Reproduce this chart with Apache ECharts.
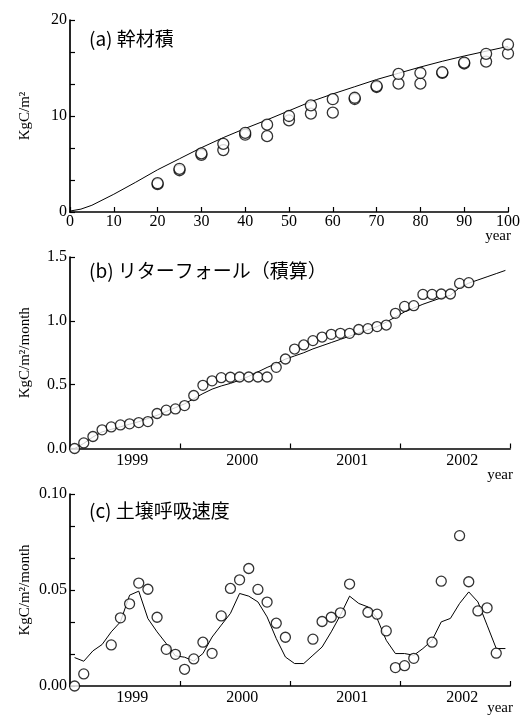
<!DOCTYPE html>
<html>
<head>
<meta charset="utf-8">
<script src="https://cdn.jsdelivr.net/npm/echarts@6/dist/echarts.min.js"></script>
<style>
html,body{margin:0;padding:0;background:#fff;}
#c{width:523px;height:717px;}
</style>
</head>
<body>
<div id="c"></div>
<script>
// ---------- Data ----------
const titleA = '(a) 幹材積';
const titleB = '(b) リターフォール（積算）';
const titleC = '(c) 土壌呼吸速度';
const yNameA = 'KgC/m²';
const yNameBC = 'KgC/m²/month';
const xName = 'year';
const yearLabels = ['1999', '2000', '2001', '2002'];

// (a) stem volume: observations (two plots) and model curve
const aYears = [20, 25, 30, 35, 40, 45, 50, 55, 60, 65, 70, 75, 80, 85, 90, 95, 100];
const aObs1 = [3.0, 4.5, 6.1, 7.1, 8.25, 9.1, 10.0, 11.1, 11.75, 11.9, 13.12, 14.38, 14.48, 14.56, 15.57, 16.48, 17.45];
const aObs2 = [2.9, 4.35, 5.96, 6.45, 8.05, 7.9, 9.55, 10.25, 10.35, 11.77, 13.02, 13.37, 13.37, 14.49, 15.47, 15.67, 16.51];
const aModelYears = [0, 2.5, 5, 10, 15, 20, 25, 30, 35, 40, 45, 50, 55, 60, 65, 70, 75, 80, 85, 90, 95, 100];
const aModel = [0.1, 0.3, 0.7, 1.85, 3.1, 4.4, 5.55, 6.7, 7.75, 8.7, 9.6, 10.55, 11.5, 12.3, 13.05, 13.8, 14.45, 15.1, 15.7, 16.25, 16.75, 17.25];

// (b) cumulative litterfall, monthly (month index from start)
const bObs = [0.000, 0.044, 0.094, 0.146, 0.169, 0.185, 0.193, 0.203, 0.211, 0.274,
  0.300, 0.310, 0.336, 0.415, 0.495, 0.530, 0.555, 0.558, 0.560, 0.560,
  0.560, 0.560, 0.636, 0.701, 0.779, 0.811, 0.845, 0.873, 0.894, 0.902,
  0.902, 0.932, 0.939, 0.955, 0.967, 1.059, 1.113, 1.119, 1.207, 1.207,
  1.210, 1.210, 1.293, 1.299];
const bModel = [0.00, 0.04, 0.09, 0.13, 0.15, 0.17, 0.19, 0.21, 0.235, 0.26,
  0.29, 0.32, 0.35, 0.39, 0.43, 0.465, 0.49, 0.51, 0.535, 0.565,
  0.60, 0.635, 0.665, 0.70, 0.725, 0.75, 0.78, 0.805, 0.83, 0.855,
  0.88, 0.905, 0.93, 0.955, 0.99, 1.03, 1.07, 1.10, 1.13, 1.155,
  1.18, 1.20, 1.26, 1.295, 1.32, 1.345, 1.37, 1.395];

// (c) soil respiration rate, monthly
const cObsMonth = [0, 1, 4, 5, 6, 7, 8, 9, 10, 11, 12, 13, 14, 15, 16, 17, 18, 19, 20, 21,
  22, 23, 26, 27, 28, 29, 30, 32, 33, 34, 35, 36, 37, 39, 40, 42, 43, 44, 45, 46];
const cObs = [0.000, 0.0063, 0.0214, 0.0355, 0.0428, 0.0536, 0.0504, 0.0358, 0.0191, 0.0165,
  0.0087, 0.0141, 0.0228, 0.0170, 0.0365, 0.0508, 0.0553, 0.0612, 0.0503, 0.0437,
  0.0327, 0.0254, 0.0244, 0.0336, 0.0358, 0.0381, 0.0531, 0.0384, 0.0374, 0.0287,
  0.0096, 0.0106, 0.0144, 0.0228, 0.0546, 0.0783, 0.0543, 0.0391, 0.0407, 0.0171];
const cModel = [0.0148, 0.0129, 0.0183, 0.0216, 0.0282, 0.0334, 0.0473, 0.0494, 0.0351, 0.0282,
  0.0221, 0.0157, 0.0150, 0.0130, 0.0169, 0.0255, 0.0317, 0.0378, 0.0482, 0.0468,
  0.0438, 0.0360, 0.0247, 0.0151, 0.0117, 0.0117, 0.0160, 0.0203, 0.0282, 0.0369,
  0.0468, 0.0430, 0.0412, 0.0352, 0.0238, 0.0169, 0.0169, 0.0160, 0.0195, 0.0238,
  0.0334, 0.0352, 0.0430, 0.0490, 0.0438, 0.0317, 0.0195, 0.0195];

// ---------- Build ----------
const SERIF = 'Liberation Serif';
const CJK = 'Noto Sans CJK JP';
const axisLine = { show: true, onZero: false, lineStyle: { color: '#000', width: 1.7 } };
const tickStyle = { color: '#000', width: 1.2 };
const labelBase = { color: '#000', fontFamily: SERIF, fontSize: 16 };

const grids = [
  { left: 70, width: 440, top: 20, height: 192 },
  { left: 70, width: 440, top: 257, height: 191.5 },
  { left: 70, width: 440, top: 494, height: 192 }
];

const monthTicks = yearLabels.map((_, i) => 12 * (i + 1));
const monthLabelPos = yearLabels.map((_, i) => 6.8 + 12 * i);

function yearName(pad) {
  return {
    name: xName, nameLocation: 'end', nameGap: 3, nameMoveOverlap: false,
    nameTextStyle: { color: '#000', fontFamily: SERIF, fontSize: 15, align: 'right', verticalAlign: 'top', padding: [pad, 0, 0, 0] }
  };
}

const xAxes = [
  Object.assign({
    gridIndex: 0, type: 'value', min: 0, max: 100, interval: 10,
    axisLine: axisLine,
    axisTick: { show: true, inside: true, length: 5, lineStyle: tickStyle },
    axisLabel: Object.assign({ margin: 2 }, labelBase),
    splitLine: { show: false }
  }, yearName(17)),
  Object.assign({
    gridIndex: 1, type: 'value', min: 0, max: 48,
    axisLine: axisLine,
    axisTick: { show: true, inside: true, length: 5, lineStyle: tickStyle, customValues: monthTicks },
    axisLabel: Object.assign({ margin: 4, customValues: monthLabelPos,
      formatter: v => yearLabels[Math.round((v - 6.8) / 12)] }, labelBase),
    splitLine: { show: false }
  }, yearName(19)),
  Object.assign({
    gridIndex: 2, type: 'value', min: 0, max: 48,
    axisLine: axisLine,
    axisTick: { show: true, inside: true, length: 5, lineStyle: tickStyle, customValues: monthTicks },
    axisLabel: Object.assign({ margin: 4, customValues: monthLabelPos,
      formatter: v => yearLabels[Math.round((v - 6.8) / 12)] }, labelBase),
    splitLine: { show: false }
  }, yearName(15))
];

function yAxis(idx, min, max, interval, name, dec, minor) {
  return {
    gridIndex: idx, type: 'value', min: min, max: max, interval: interval,
    name: name, nameLocation: 'middle', nameGap: 37, nameMoveOverlap: false,
    nameTextStyle: { color: '#000', fontFamily: SERIF, fontSize: 15 },
    axisLine: axisLine,
    axisTick: { show: true, inside: true, length: 5, lineStyle: tickStyle },
    minorTick: { show: minor, splitNumber: 3, length: 5, lineStyle: tickStyle },
    axisLabel: Object.assign({ margin: 3, formatter: v => v.toFixed(dec) }, labelBase),
    splitLine: { show: false }, minorSplitLine: { show: false }
  };
}

const yAxes = [
  yAxis(0, 0, 20, 10, yNameA, 0, true),
  yAxis(1, 0, 1.5, 0.5, yNameBC, 1, false),
  yAxis(2, 0, 0.1, 0.05, yNameBC, 2, true)
];

const circleStyle = { color: '#fff', borderColor: '#000', borderWidth: 1.3 };
const lineStyle = { color: '#000', width: 1 };

function lineSeries(idx, data) {
  return { type: 'line', xAxisIndex: idx, yAxisIndex: idx, data: data, showSymbol: false, symbol: 'none',
    lineStyle: lineStyle, itemStyle: { color: '#000' }, z: 2, silent: true, animation: false };
}
function scatterSeries(idx, data, size) {
  return { type: 'scatter', xAxisIndex: idx, yAxisIndex: idx, data: data, symbol: 'circle', symbolSize: size,
    itemStyle: circleStyle, z: 3, silent: true, animation: false };
}

const series = [
  lineSeries(0, aModelYears.map((y, i) => [y, aModel[i]])),
  scatterSeries(0, aYears.map((y, i) => [y, aObs2[i]]), 11),
  scatterSeries(0, aYears.map((y, i) => [y, aObs1[i]]), 11),
  lineSeries(1, bModel.map((v, i) => [i + 0.5, v])),
  scatterSeries(1, bObs.map((v, i) => [i + 0.5, v]), 10),
  lineSeries(2, cModel.map((v, i) => [i + 0.5, v])),
  scatterSeries(2, cObs.map((v, i) => [cObsMonth[i] + 0.5, v]), 10)
];

const titleStyle = { color: '#000', fontFamily: CJK, fontSize: 19, fontWeight: 'normal' };
const titles = [
  { text: titleA, left: 89, top: 29, textStyle: titleStyle, padding: 0 },
  { text: titleB, left: 89, top: 261, textStyle: titleStyle, padding: 0 },
  { text: titleC, left: 89, top: 501, textStyle: titleStyle, padding: 0 }
];

const chart = echarts.init(document.getElementById('c'), null, { renderer: 'canvas' });
chart.setOption({
  backgroundColor: '#fff',
  animation: false,
  title: titles,
  grid: grids,
  xAxis: xAxes,
  yAxis: yAxes,
  series: series
});
</script>
</body>
</html>
